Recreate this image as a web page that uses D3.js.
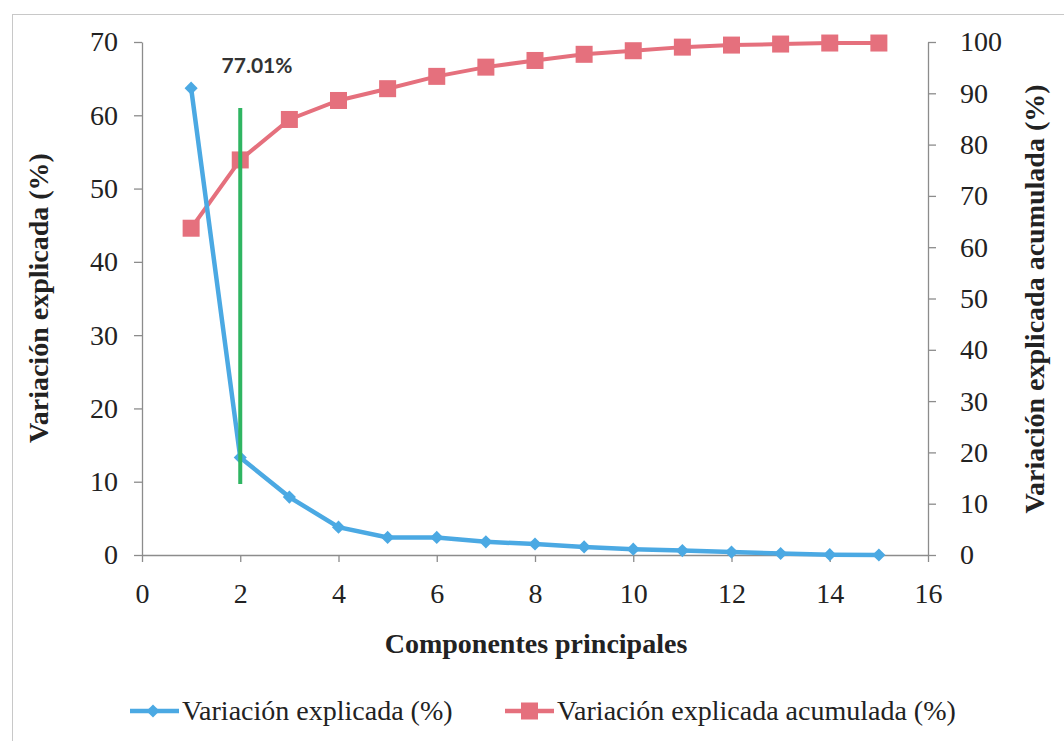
<!DOCTYPE html>
<html><head><meta charset="utf-8">
<script src="https://cdn.jsdelivr.net/npm/d3@7"></script>
<style>body{margin:0;background:#fff} svg text{font-family:"Liberation Serif","Times New Roman","DejaVu Serif",serif;} svg text.sans{font-family:Lato,"Open Sans",sans-serif;}</style>
</head><body>
<script>
const components = [1,2,3,4,5,6,7,8,9,10,11,12,13,14,15];
const explained = [63.7,13.3,7.9,3.8,2.4,2.4,1.8,1.5,1.1,0.8,0.6,0.4,0.2,0.05,0.0];
const cumulative = [63.7,77.01,84.9,88.6,90.9,93.3,95.1,96.4,97.6,98.3,99.0,99.4,99.6,99.8,99.8];
const xTicks = [0,2,4,6,8,10,12,14,16];
const yLeftTicks = [0,10,20,30,40,50,60,70];
const yRightTicks = [0,10,20,30,40,50,60,70,80,90,100];
const cutoffX = 2, cutoffRange = [9.7, 61];
const cutoffLabel = "77.01%";
const seriesNames = ["Variación explicada (%)", "Variación explicada acumulada (%)"];

const W=1064,H=741;
const svg=d3.select("body").append("svg").attr("width",W).attr("height",H);
svg.append("rect").attr("x",12.5).attr("y",14.5).attr("width",1080).attr("height",760)
  .attr("fill","none").attr("stroke","#c8c8c8").attr("stroke-width",1);

const x=d3.scaleLinear().domain([0,16]).range([142,928]);
const yL=d3.scaleLinear().domain([0,70]).range([555,42]);
const yR=d3.scaleLinear().domain([0,100]).range([555,42]);
const axisColor="#8c8c8c";
const blue="#4ba9e3", red="#e5707d", green="#2fb562";
const FS="28px";

function styleAxis(g){
  g.attr("font-family",null).attr("font-size",null);
  g.selectAll(".domain").attr("stroke",axisColor).attr("stroke-width",1.3);
  g.selectAll(".tick line").attr("stroke",axisColor).attr("stroke-width",1.3);
  g.selectAll(".tick text").style("font-size",FS).attr("fill","#222");
}
const gx=svg.append("g").attr("transform","translate(0,555)")
  .call(d3.axisBottom(x).tickValues(xTicks).tickSize(7).tickSizeOuter(0).tickPadding(21));
styleAxis(gx);
const gl=svg.append("g").attr("transform","translate(142,0)")
  .call(d3.axisLeft(yL).tickValues(yLeftTicks).tickSize(8).tickSizeOuter(0).tickPadding(16));
styleAxis(gl);
const gr=svg.append("g").attr("transform","translate(928,0)")
  .call(d3.axisRight(yR).tickValues(yRightTicks).tickSize(8).tickSizeOuter(0).tickPadding(24));
styleAxis(gr);
gr.selectAll(".tick text").attr("text-anchor","start");

// titles
svg.append("text").attr("transform","translate(48,298) rotate(-90)").attr("text-anchor","middle")
  .style("font-weight","bold").style("font-size",FS).attr("fill","#222")
  .text("Variación explicada (%)");
svg.append("text").attr("transform","translate(1044,299) rotate(-90)").attr("text-anchor","middle")
  .style("font-weight","bold").style("font-size",FS).attr("fill","#222")
  .text("Variación explicada acumulada (%)");
svg.append("text").attr("x",536).attr("y",653).attr("text-anchor","middle")
  .style("font-weight","bold").style("font-size",FS).attr("fill","#222")
  .text("Componentes principales");

// series
const lineL=d3.line().x((d,i)=>x(components[i])).y(d=>yL(d));
const lineR=d3.line().x((d,i)=>x(components[i])).y(d=>yR(d));
svg.append("path").attr("d",lineR(cumulative)).attr("fill","none").attr("stroke",red).attr("stroke-width",4);
svg.selectAll(".sq").data(cumulative).enter().append("rect")
  .attr("x",(d,i)=>x(components[i])-8.5).attr("y",d=>yR(d)-8.5).attr("width",17).attr("height",17).attr("fill",red);
svg.append("path").attr("d",lineL(explained)).attr("fill","none").attr("stroke",blue).attr("stroke-width",4.5);
const diamond=d3.symbol().type(d3.symbolDiamond2).size(110);
svg.selectAll(".dm").data(explained).enter().append("path")
  .attr("d",diamond).attr("transform",(d,i)=>`translate(${x(components[i])},${yL(d)})`).attr("fill",blue);

// cutoff
svg.append("line").attr("x1",x(cutoffX)).attr("x2",x(cutoffX)).attr("y1",yL(cutoffRange[0])).attr("y2",yL(cutoffRange[1]))
  .attr("stroke",green).attr("stroke-width",4);
svg.append("text").attr("class","sans").attr("x",257).attr("y",73).attr("text-anchor","middle")
  .style("font-weight","bold").style("font-size","21px").attr("fill","#333")
  .text(cutoffLabel);

// legend
const leg=[{c:blue,t:seriesNames[0],x0:130,shape:"d"},{c:red,t:seriesNames[1],x0:505,shape:"s"}];
leg.forEach(l=>{
  svg.append("line").attr("x1",l.x0).attr("x2",l.x0+49).attr("y1",711).attr("y2",711).attr("stroke",l.c).attr("stroke-width",4.5);
  if(l.shape==="d"){
    svg.append("path").attr("d",d3.symbol().type(d3.symbolDiamond2).size(110)).attr("transform",`translate(${l.x0+23},711)`).attr("fill",l.c);
  } else {
    svg.append("rect").attr("x",l.x0+16).attr("y",702.5).attr("width",17).attr("height",17).attr("fill",l.c);
  }
  svg.append("text").attr("x",l.x0+52).attr("y",720).style("font-size",FS).attr("fill","#222").text(l.t);
});
</script>
</body></html>
